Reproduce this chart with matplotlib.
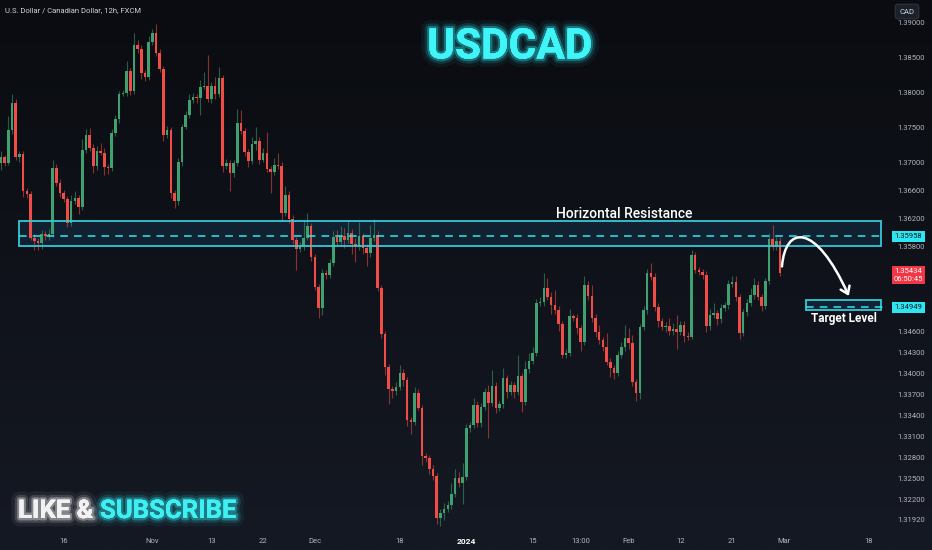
import matplotlib
matplotlib.use("Agg")
import matplotlib.pyplot as plt
import matplotlib.patheffects as pe
import numpy as np
from matplotlib.colors import LinearSegmentedColormap
from matplotlib.patches import FancyArrowPatch, Rectangle
from matplotlib.path import Path
from matplotlib.transforms import blended_transform_factory

plt.rcParams["font.family"] = ["Roboto", "DejaVu Sans"]

# 12h USDCAD candles (close of each bar, open = previous close)
first_open = 1.3700
closes = [
    1.3709, 1.3700, 1.3747, 1.3786, 1.3709, 1.3713, 1.3660, 1.3656, 1.3594, 1.3589,
    1.3586, 1.3599, 1.3596, 1.3599, 1.3693, 1.3672, 1.3658, 1.3649, 1.3615, 1.3646,
    1.3650, 1.3638, 1.3719, 1.3740, 1.3722, 1.3696, 1.3717, 1.3715, 1.3695, 1.3693,
    1.3743, 1.3763, 1.3799, 1.3800, 1.3831, 1.3803, 1.3868, 1.3863, 1.3828, 1.3823,
    1.3873, 1.3885, 1.3857, 1.3834, 1.3740, 1.3747, 1.3658, 1.3646, 1.3702, 1.3752,
    1.3769, 1.3790, 1.3794, 1.3793, 1.3809, 1.3810, 1.3791, 1.3810, 1.3799, 1.3821,
    1.3696, 1.3700, 1.3686, 1.3700, 1.3757, 1.3746, 1.3716, 1.3703, 1.3727, 1.3732,
    1.3705, 1.3715, 1.3692, 1.3687, 1.3697, 1.3696, 1.3629, 1.3655, 1.3621, 1.3591,
    1.3578, 1.3582, 1.3594, 1.3611, 1.3566, 1.3524, 1.3494, 1.3544, 1.3541, 1.3558,
    1.3595, 1.3588, 1.3596, 1.3591, 1.3601, 1.3585, 1.3582, 1.3596, 1.3579, 1.3572,
    1.3594, 1.3598, 1.3522, 1.3457, 1.3410, 1.3379, 1.3376, 1.3381, 1.3401, 1.3391,
    1.3334, 1.3332, 1.3373, 1.3352, 1.3283, 1.3280, 1.3265, 1.3255, 1.3195, 1.3202,
    1.3208, 1.3213, 1.3229, 1.3252, 1.3245, 1.3253, 1.3323, 1.3327, 1.3356, 1.3330,
    1.3353, 1.3374, 1.3359, 1.3383, 1.3352, 1.3357, 1.3394, 1.3374, 1.3384, 1.3374,
    1.3397, 1.3360, 1.3407, 1.3418, 1.3430, 1.3501, 1.3502, 1.3522, 1.3510, 1.3498,
    1.3491, 1.3471, 1.3427, 1.3430, 1.3482, 1.3480, 1.3465, 1.3445, 1.3527, 1.3511,
    1.3480, 1.3460, 1.3448, 1.3438, 1.3417, 1.3408, 1.3401, 1.3427, 1.3438, 1.3451,
    1.3444, 1.3389, 1.3373, 1.3467, 1.3491, 1.3544, 1.3538, 1.3495, 1.3475, 1.3467,
    1.3468, 1.3461, 1.3464, 1.3460, 1.3470, 1.3454, 1.3453, 1.3569, 1.3548, 1.3545,
    1.3541, 1.3468, 1.3484, 1.3487, 1.3478, 1.3494, 1.3498, 1.3528, 1.3531, 1.3510,
    1.3458, 1.3488, 1.3501, 1.3512, 1.3527, 1.3510, 1.3497, 1.3532, 1.3592, 1.3581,
    1.3589, 1.35434,
]
# wick lengths beyond the body, in pips
upper_wick = [
    8, 3, 20, 12, 6, 4, 4, 5, 4, 5, 5, 6, 5, 8, 12, 6, 5, 4, 4, 8,
    10, 4, 15, 8, 10, 6, 8, 12, 6, 4, 6, 5, 4, 4, 15, 5, 18, 8, 5, 4,
    8, 6, 13, 5, 5, 6, 5, 4, 5, 4, 5, 8, 6, 5, 10, 20, 44, 6, 12, 16,
    4, 6, 5, 4, 20, 18, 4, 4, 10, 20, 5, 6, 30, 4, 10, 18, 5, 12, 5, 5,
    4, 6, 25, 18, 4, 4, 4, 5, 4, 5, 8, 10, 14, 12, 16, 5, 8, 20, 5, 6,
    18, 22, 5, 4, 4, 4, 4, 8, 12, 6, 4, 5, 8, 5, 4, 4, 4, 5, 4, 5,
    8, 6, 15, 12, 8, 20, 6, 5, 10, 6, 5, 6, 10, 22, 5, 4, 14, 5, 6, 5,
    30, 5, 12, 12, 8, 6, 8, 22, 15, 6, 22, 5, 4, 6, 10, 4, 5, 4, 12, 5,
    15, 5, 10, 5, 20, 5, 4, 6, 8, 18, 15, 12, 4, 4, 5, 6, 14, 5, 6, 5,
    6, 12, 8, 20, 5, 6, 5, 8, 5, 4, 5, 5, 8, 14, 4, 5, 5, 5, 8, 8,
    4, 5, 6, 10, 10, 5, 4, 5, 8, 20, 6, 6,
]
lower_wick = [
    10, 4, 3, 6, 5, 8, 8, 6, 4, 12, 10, 8, 5, 6, 4, 4, 6, 4, 6, 4,
    4, 10, 4, 5, 4, 10, 5, 4, 12, 8, 4, 5, 6, 4, 4, 6, 4, 6, 8, 6,
    4, 5, 5, 4, 8, 4, 8, 10, 5, 6, 4, 5, 4, 8, 25, 4, 4, 6, 8, 5,
    8, 4, 25, 6, 4, 5, 6, 8, 4, 8, 6, 4, 5, 30, 4, 4, 12, 4, 6, 6,
    30, 4, 6, 4, 5, 5, 15, 10, 6, 4, 5, 5, 5, 12, 4, 14, 22, 5, 8, 18,
    5, 5, 4, 6, 12, 22, 10, 6, 4, 8, 8, 18, 5, 4, 12, 5, 8, 6, 8, 12,
    10, 4, 6, 4, 6, 30, 4, 6, 4, 6, 6, 5, 50, 5, 8, 5, 5, 8, 4, 8,
    4, 14, 4, 5, 4, 5, 4, 6, 5, 12, 5, 10, 5, 5, 4, 5, 8, 12, 4, 6,
    6, 8, 6, 5, 5, 12, 8, 4, 5, 5, 8, 6, 12, 8, 4, 6, 4, 6, 8, 4,
    8, 5, 6, 25, 5, 8, 5, 4, 5, 4, 6, 8, 6, 5, 8, 6, 4, 5, 4, 6,
    8, 4, 5, 4, 5, 5, 8, 4, 4, 5, 4, 4,
]

price_ticks = [1.39, 1.385, 1.38, 1.375, 1.37, 1.366, 1.362, 1.358, 1.346, 1.343,
               1.34, 1.337, 1.334, 1.331, 1.328, 1.325, 1.322, 1.3192]
time_ticks = [17, 41, 57, 71, 85, 108, 126, 144, 157, 170, 184, 198, 212, 235]
time_labels = ["16", "Nov", "13", "22", "Dec", "18", "2024", "15", "13:00", "Feb",
               "12", "21", "Mar", "18"]

resistance_top, resistance_bottom, resistance_level = 1.3618, 1.3582, 1.35958
target_top, target_bottom, target_level = 1.3505, 1.3491, 1.34949
last_price, countdown = 1.35434, "06:50:45"

GREEN = "#40a070"
RED = "#ef4d45"
CYAN = "#2fe6f0"
BOX_EDGE = "#35c9d6"
AXIS_TEXT = "#b2b5be"

closes = np.array(closes)
opens = np.concatenate([[first_open], closes[:-1]])
highs = np.maximum(opens, closes) + np.array(upper_wick) / 10000
lows = np.minimum(opens, closes) - np.array(lower_wick) / 10000
x = np.arange(len(closes))
colors = [GREEN if c >= o else RED for o, c in zip(opens, closes)]

fig = plt.figure(figsize=(9.32, 5.5), dpi=100)

# dark background with a faint vertical gradient
bg = fig.add_axes([0, 0, 1, 1], zorder=0)
bg_cmap = LinearSegmentedColormap.from_list("bg", ["#0a0c11", "#151923"])
bg.imshow(np.linspace(0, 1, 256).reshape(-1, 1), aspect="auto", cmap=bg_cmap,
          extent=[0, 1, 0, 1], origin="upper")
bg.axis("off")

ax = fig.add_axes([0, 20 / 550, 885 / 932, 530 / 550], zorder=1)
ax.set_facecolor("none")
ax.set_xlim(-0.27, 239.4)
ax.set_ylim(1.31778, 1.39323)
for s in ax.spines.values():
    s.set_visible(False)
ax.set_xticks([])
ax.set_yticks([])

# resistance zone
box_x0, box_x1 = 4.9, 238.4
ax.add_patch(Rectangle((box_x0, resistance_bottom), box_x1 - box_x0,
                       resistance_top - resistance_bottom,
                       facecolor="#163049", alpha=0.55, linewidth=0, zorder=1))

# candles
ax.vlines(x, lows, highs, colors=colors, linewidth=0.8, alpha=0.55, zorder=2)
body_low = np.minimum(opens, closes)
body_h = np.maximum(np.abs(closes - opens), 0.00004)
ax.bar(x, body_h, bottom=body_low, width=0.7, color=colors, linewidth=0, zorder=3)

ax.add_patch(Rectangle((box_x0, resistance_bottom), box_x1 - box_x0,
                       resistance_top - resistance_bottom,
                       facecolor="none", edgecolor=BOX_EDGE, linewidth=1.3, zorder=4))
ax.hlines(resistance_level, box_x0, 239.4, colors=CYAN, linewidth=1.1,
          linestyles=(0, (5, 4)), zorder=4)

# target zone
tgt_x0 = 218.0
ax.add_patch(Rectangle((tgt_x0, target_bottom), box_x1 - tgt_x0, target_top - target_bottom,
                       facecolor="#163049", alpha=0.55, edgecolor="none", zorder=1))
ax.add_patch(Rectangle((tgt_x0, target_bottom), box_x1 - tgt_x0, target_top - target_bottom,
                       facecolor="none", edgecolor=BOX_EDGE, linewidth=1.3, zorder=4))
ax.hlines(target_level, tgt_x0, 239.4, colors=CYAN, linewidth=1.1,
          linestyles=(0, (5, 4)), zorder=4)

ax.text((box_x0 + box_x1) / 2 + 47, resistance_top + 0.00095, "Horizontal Resistance",
        color="white", fontsize=10, fontweight="medium", ha="center", va="center", zorder=5)
ax.text((tgt_x0 + box_x1) / 2, target_bottom - 0.0003, "Target Level",
        color="white", fontsize=8.5, fontweight="bold", ha="center", va="top", zorder=5)

# projected path arrow
arrow_path = Path([(211.5, 1.3553), (212.4, 1.3612), (220.6, 1.3616), (229.6, 1.3511)],
                  [Path.MOVETO, Path.CURVE4, Path.CURVE4, Path.CURVE4])
ax.add_patch(FancyArrowPatch(path=arrow_path, arrowstyle="->,head_length=5,head_width=3.5",
                             color="white", linewidth=1.8, zorder=6))

# price scale
yt = blended_transform_factory(ax.transAxes, ax.transData)
for p in price_ticks:
    ax.text(897 / 885, p, f"{p:.5f}", transform=yt, color=AXIS_TEXT, fontsize=5.5,
            ha="left", va="center", clip_on=False)


def price_tag(y, text, face, fg):
    ax.text(908.5 / 885, y, text, transform=yt, color=fg, fontsize=5.5, ha="center",
            va="top" if "\n" in text else "center", clip_on=False, linespacing=1.25,
            bbox=dict(boxstyle="square,pad=0.3", facecolor=face, edgecolor="none"))


price_tag(resistance_level, f"{resistance_level:.5f}", CYAN, "#0b1a22")
price_tag(target_level, f"{target_level:.5f}", CYAN, "#0b1a22")
price_tag(last_price + 0.0007, f"{last_price:.5f}\n{countdown}", "#f23645", "white")

# time scale
xt = blended_transform_factory(ax.transData, fig.transFigure)
for t, lab in zip(time_ticks, time_labels):
    bold = lab == "2024"
    ax.text(t, 1 - 541 / 550, lab, transform=xt, color="white" if bold else AXIS_TEXT,
            fontsize=6 if bold else 5.5, fontweight="bold" if bold else "normal",
            ha="center", va="center", clip_on=False)

fig.text(907 / 932, 1 - 11.5 / 550, "CAD", color="#d1d4dc", fontsize=5.5, ha="center",
         va="center", bbox=dict(boxstyle="round,pad=0.55,rounding_size=0.3",
                                facecolor="#1c2029", edgecolor="#2a2e39"))
fig.text(5 / 932, 1 - 10 / 550, "U.S. Dollar / Canadian Dollar, 12h, FXCM",
         color="#d1d4dc", fontsize=5.5, ha="left", va="center")


def glow(color):
    return [pe.withStroke(linewidth=12, foreground=color, alpha=0.06),
            pe.withStroke(linewidth=7, foreground=color, alpha=0.15),
            pe.withStroke(linewidth=3.5, foreground=color, alpha=0.35),
            pe.Normal()]


fig.text(510 / 932, 1 - 47 / 550, "USDCAD", color="#3ff5f7", fontsize=30.5,
         fontweight="bold", ha="center", va="center", path_effects=glow(CYAN))
fig.text(18 / 932, 1 - 511 / 550, "LIKE &", color="#f2f2f2", fontsize=18.5,
         fontweight="bold", ha="left", va="center", path_effects=glow("white"))
fig.text(100 / 932, 1 - 511 / 550, "SUBSCRIBE", color="#3ff0f2", fontsize=18.5,
         fontweight="bold", ha="left", va="center", path_effects=glow(CYAN))

fig.savefig("out.png", dpi=100, facecolor="#0e1016")
